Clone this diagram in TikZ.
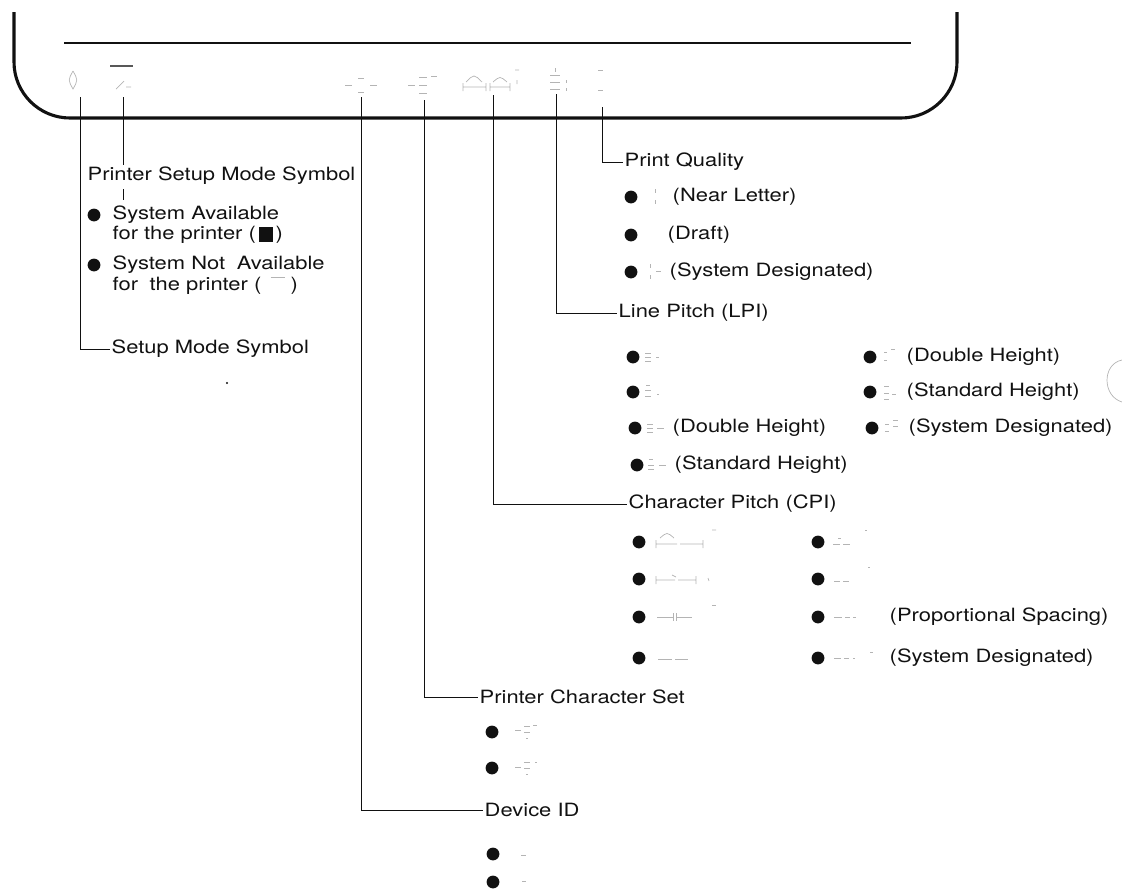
\documentclass[tikz,border=0pt]{standalone}
\usepackage{fontspec}
\setmainfont{TeX Gyre Heros}[FakeStretch=1.2]
\usepackage{xcolor}
\usepackage{tikz}
\usetikzlibrary{positioning,calc}
\definecolor{inkBlack}{HTML}{111111}
\definecolor{ghostGray}{HTML}{B4B4B4}

\begin{document}
\begin{tikzpicture}[x=0.025cm, y=-0.025cm, font=\fontsize{13}{15}\selectfont,
    panel/.style={line width=2.2pt, draw=inkBlack, rounded corners=1.4cm},
    lead/.style={line width=0.6pt, draw=inkBlack},
    dot/.style={circle, fill=inkBlack, inner sep=0pt, minimum size=0.32cm},
    lbl/.style={anchor=west, inner sep=1pt, text=inkBlack},
    ghost/.style={line width=0.5pt, draw=ghostGray}]
    \useasboundingbox (0,0) rectangle (1122,889);

    \draw[panel] (14,12) -- (14,118) -- (957,118) -- (957,12);
    \draw[line width=1.5pt, draw=inkBlack] (64,43) -- (911,43);

    \draw[ghost] (73,71) .. controls (68,80) .. (73,89) .. controls (78,80) .. (73,71);
    \draw[line width=1pt, draw=inkBlack!70] (110,66) -- (133,66);
    \draw[ghost] (116,89) -- (124,81) (126,87) -- (131,87);
    \draw[ghost] (345,85) -- (352,85) (370,85) -- (377,85) (358,78) -- (364,78) (358,92) -- (364,92);
    \draw[ghost] (408,85) -- (415,85) (419,77) -- (427,77) (419,85) -- (427,85) (419,93) -- (427,93) (431,76) -- (437,76);
    \draw[ghost] (463,87) -- (486,87) (463,83) -- (463,91) (486,83) -- (486,91)
        (490,87) -- (510,87) (490,83) -- (490,91) (510,83) -- (510,91)
        (466,82) .. controls (474,74) .. (482,82) (493,82) .. controls (500,76) .. (507,82)
        (515,70) -- (519,70) (517,80) -- (517,84);
    \draw[ghost] (550,75) -- (560,75) (550,82) -- (560,82) (550,89) -- (560,89) (555,68) -- (555,72)
        (566,80) -- (566,83) (566,88) -- (566,91);
    \draw[ghost] (598,70) -- (603,70) (598,90) -- (603,90);

    \coordinate (symSetup) at (80,97);
    \coordinate (symPrinter) at (123,97);
    \coordinate (symDevice) at (361,97);
    \coordinate (symCharset) at (424,100);
    \coordinate (symCpi) at (493,95);
    \coordinate (symLpi) at (556,94);
    \coordinate (symQuality) at (602,107);

    \node[lbl] (psetupL) at (86,176) {Printer Setup Mode Symbol};
    \coordinate (tickTop) at (123,189);
    \coordinate (tickEnd) at (123,200);
    \node[dot] (avDot) at (94,215) {};
    \node[lbl] (avL1) at (111,215) {System Available};
    \node[lbl] (avL2) at (111,235) {for the printer (\,\rule[-0.1em]{0.75em}{0.8em}\,)};
    \node[dot] (naDot) at (94,265) {};
    \node[lbl] (naL1) at (111,265) {System Not\hspace{0.3em} Available};
    \node[lbl] (naL2) at (111,286) {for\hspace{0.3em} the printer (\hspace{0.5em}\textcolor{ghostGray}{\rule[0.7em]{0.8em}{0.06em}}\hspace{0.3em})};
    \node[lbl] (setupL) at (110,349) {Setup Mode Symbol};
    \fill[inkBlack] (227,383) circle (0.8pt);

    \node[lbl] (pqL) at (623,162) {Print Quality};
    \node[dot] (pq1) at (631,197) {};
    \node[lbl] (pqT1) at (671,197) {(Near Letter)};
    \node[dot] (pq2) at (631,235) {};
    \node[lbl] (pqT2) at (666,235) {(Draft)};
    \node[dot] (pq3) at (631,272) {};
    \node[lbl] (pqT3) at (668,272) {(System Designated)};
    \draw[ghost] (655,189) -- (655,193) (655,200) -- (655,204);
    \draw[ghost] (650,264) -- (650,268) (650,275) -- (650,279) (656,271) -- (661,271);

    \node[lbl] (lpiL) at (617,313) {Line Pitch (LPI)};
    \node[dot] (lpiA1) at (633,357) {};
    \node[dot] (lpiA2) at (633,392) {};
    \node[dot] (lpiA3) at (635,428) {};
    \node[lbl] (lpiT3) at (671,428) {(Double Height)};
    \node[dot] (lpiA4) at (637,465) {};
    \node[lbl] (lpiT4) at (673,465) {(Standard Height)};
    \node[dot] (lpiB1) at (870,357) {};
    \node[lbl] (lpiU1) at (905,357) {(Double Height)};
    \node[dot] (lpiB2) at (870,392) {};
    \node[lbl] (lpiU2) at (905,392) {(Standard Height)};
    \node[dot] (lpiB3) at (872,428) {};
    \node[lbl] (lpiU3) at (907,428) {(System Designated)};
    \draw[ghost] (645,353) -- (651,353) (645,357) -- (651,357) (645,361) -- (651,361) (656,357) -- (659,357);
    \draw[ghost] (646,385) -- (650,385) (645,390) -- (651,390) (645,396) -- (651,396) (657,394) -- (659,394);
    \draw[ghost] (647,424) -- (653,424) (647,428) -- (653,428) (647,432) -- (653,432) (657,428) -- (664,428);
    \draw[ghost] (649,459) -- (653,459) (648,465) -- (654,465) (648,469) -- (654,469) (659,465) -- (666,465);
    \draw[ghost] (884,352) -- (887,352) (884,360) -- (887,360) (891,349) -- (895,349);
    \draw[ghost] (884,386) -- (889,386) (884,393) -- (889,393) (884,399) -- (889,399) (892,394) -- (896,394);
    \draw[ghost] (885,424) -- (889,424) (885,431) -- (889,431) (893,420) -- (898,420) (893,426) -- (898,426);

    \node[lbl] (cpiL) at (627,504) {Character Pitch (CPI)};
    \node[dot] (cpiA1) at (639,542) {};
    \node[dot] (cpiA2) at (639,579) {};
    \node[dot] (cpiA3) at (639,617) {};
    \node[dot] (cpiA4) at (639,658) {};
    \node[dot] (cpiB1) at (818,542) {};
    \node[dot] (cpiB2) at (818,579) {};
    \node[dot] (cpiB3) at (818,617) {};
    \node[lbl] (cpiU3) at (888,617) {(Proportional Spacing)};
    \node[dot] (cpiB4) at (818,658) {};
    \node[lbl] (cpiU4) at (888,658) {(System Designated)};
    \draw[ghost] (656,544) -- (677,544) (656,540) -- (656,548) (680,544) -- (703,544) (703,540) -- (703,548)
        (660,538) .. controls (667,532) .. (674,538) (712,530) -- (716,530);
    \draw[ghost] (656,580) -- (675,580) (656,576) -- (656,584) (678,580) -- (696,580) (696,576) -- (696,584)
        (672,575) -- (676,577) (708,578) -- (709,581);
    \draw[ghost] (657,617) -- (673,617) (673,613) -- (673,621) (676,617) -- (692,617) (676,613) -- (676,621)
        (712,605) -- (716,605);
    \draw[ghost] (658,659) -- (672,659) (675,659) -- (688,659);
    \draw[ghost] (833,544) -- (840,544) (843,544) -- (850,544) (838,538) -- (841,538) (865,530) -- (867,530);
    \draw[ghost] (834,581) -- (840,581) (843,581) -- (849,581) (868,567) -- (870,567);
    \draw[ghost] (834,617) -- (842,617) (845,617) -- (850,617) (853,617) -- (856,617);
    \draw[ghost] (834,658) -- (841,658) (844,658) -- (849,658) (853,658) -- (855,658) (870,652) -- (873,652);

    \node[lbl] (csetL) at (478,697) {Printer Character Set};
    \node[dot] (cset1) at (492,732) {};
    \node[dot] (cset2) at (492,768) {};
    \draw[ghost] (515,730) -- (521,730) (524,726) -- (530,726) (524,732) -- (530,732) (526,738) -- (528,738) (533,725) -- (537,725);
    \draw[ghost] (515,767) -- (521,767) (524,762) -- (530,762) (524,768) -- (530,768) (526,774) -- (528,774) (535,762) -- (537,762);

    \node[lbl] (devL) at (483,810) {Device ID};
    \node[dot] (dev1) at (493,854) {};
    \node[dot] (dev2) at (493,882) {};
    \draw[ghost] (521,855) -- (526,855);
    \draw[ghost] (522,881) -- (526,881);

    \draw[ghost] (1122,360) .. controls (1102,364) and (1102,396) .. (1122,402);

    \draw[lead] (symSetup) |- (setupL.west);
    \draw[lead] (symPrinter) -- (symPrinter |- psetupL.north);
    \draw[lead] (tickTop) -- (tickEnd);
    \draw[lead] (symDevice) |- (devL.west);
    \draw[lead] (symCharset) |- (csetL.west);
    \draw[lead] (symCpi) |- (cpiL.west);
    \draw[lead] (symLpi) |- (lpiL.west);
    \draw[lead] (symQuality) |- (pqL.west);
\end{tikzpicture}
\end{document}
